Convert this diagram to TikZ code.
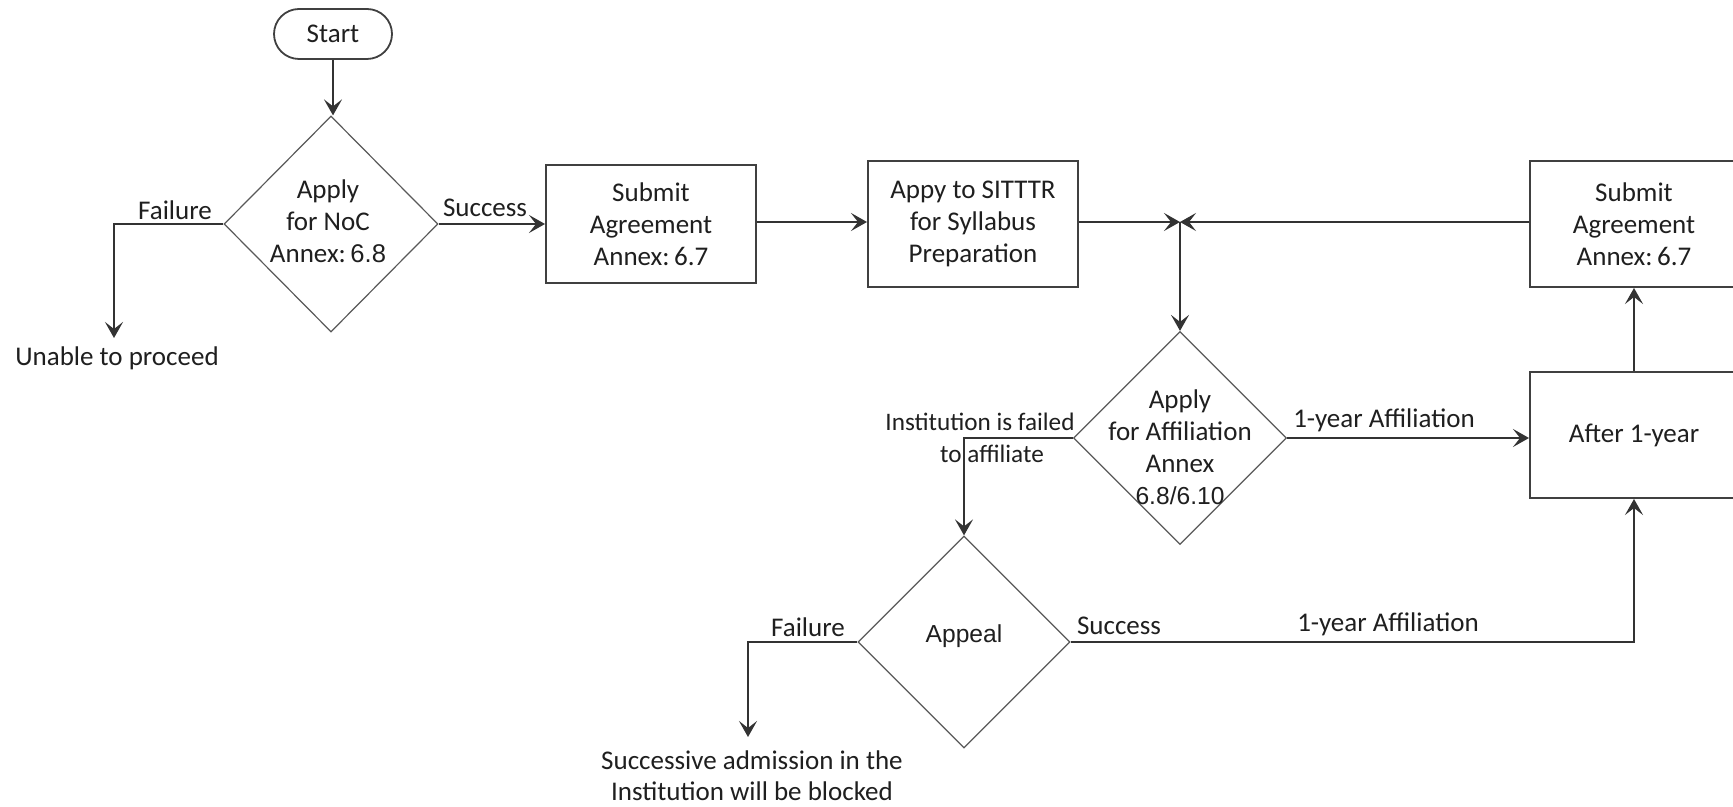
\documentclass[tikz,border=0pt]{standalone}
\usepackage{fontspec}
\setmainfont{Carlito}
\newfontfamily\altsans{Liberation Sans}
\usetikzlibrary{shapes.geometric,arrows.meta}
\begin{document}
\begin{tikzpicture}[x=0.5pt,y=-0.5pt,
  font=\fontsize{13.5}{16}\selectfont,
  every node/.append style={text=black!88},
  line/.style={draw=black!80, line width=1pt},
  arr/.style={line, -{Stealth[length=8pt,width=9pt,inset=3.5pt]}},
  procbox/.style={draw=black!75, line width=1pt, minimum width=105pt,
    minimum height=63pt, align=center, inner sep=0pt},
  decision/.style={diamond, draw=black!65, line width=0.6pt,
    minimum width=107pt, minimum height=107pt, inner sep=0pt},
  terminal/.style={draw=black!75, line width=0.9pt, rounded corners=12.5pt,
    minimum width=59pt, minimum height=25pt, inner sep=0pt},
  lbl/.style={inner sep=1pt, align=center},
  smallsans/.style={font=\fontsize{12.3}{15}\selectfont\altsans}
]
\useasboundingbox[fill=white] (0,0) rectangle (1733,807);

% shapes
\node[terminal] (start) at (333,34) {Start};
\node[decision, minimum width=107pt, minimum height=108pt] (noc) at (331,224) {};
\node[lbl] (noct) at (328,221) {Apply\\for NoC\\Annex:\,{\fontsize{12.8}{16}\selectfont\altsans 6.8}};
\node[procbox, minimum height=59pt] (sub1) at (651,224) {Submit\\Agreement\\Annex:\,6.7};
\node[procbox] (syl) at (973,224) {Appy to SITTTR\\for Syllabus\\Preparation};
\coordinate (junc) at (1180,222);
\node[procbox, minimum width=104pt] (sub2) at (1634,224) {Submit\\Agreement\\Annex:\,6.7};
\node[decision, minimum width=106.5pt, minimum height=106.5pt] (aff) at (1180,438) {};
\node[lbl] (afft) at (1180,447) {Apply\\for Affiliation\\Annex\\{\fontsize{12.3}{16}\selectfont\altsans 6.8/6.10}};
\node[procbox, minimum width=104pt] (after) at (1634,435) {After 1-year};
\node[decision, minimum width=106pt, minimum height=106pt] (appeal) at (964,642) {};
\node[lbl, smallsans] (appealt) at (964,636) {Appeal};

% end texts
\node[lbl] (unable) at (117,358) {Unable to proceed};
\node[lbl, font=\fontsize{13.5}{15.5}\selectfont] (blocked) at (752,776) {Successive admission in the\\Institution will be blocked};
\coordinate (unabletop) at (114,338);
\coordinate (blockedtop) at (748,737);

% connectors
\draw[arr] (start.south) -- (start.south |- noc.north);
\draw[arr] (noc.west) -| (unabletop);
\draw[arr] (noc.east) -- (noc.east -| sub1.west);
\draw[arr] (sub1.east |- junc) -- (syl.west |- junc);
\draw[arr] (syl.east |- junc) -- (junc);
\draw[arr] (sub2.west |- junc) -- (junc);
\draw[arr] (junc) -- (aff.north);
\draw[arr] (aff.east) -- (aff.east -| after.west);
\draw[arr] (after.north) -- (sub2.south);
\draw[arr] (aff.west) -| (appeal.north);
\draw[arr] (appeal.east) -| (after.south);
\draw[arr] (appeal.west) -| (blockedtop);

% connector labels
\node[lbl] (l1) at (175,210) {Failure};
\node[lbl] (l2) at (485,208) {Success};
\node[lbl] (l3) at (1384,420) {1-year Affiliation};
\node[lbl, font=\fontsize{12.6}{16}\selectfont] (l4) at (980,438) {Institution is failed\\\hspace*{12pt}to affiliate};
\node[lbl] (l5) at (808,627) {Failure};
\node[lbl] (l6) at (1119,626) {Success};
\node[lbl] (l7) at (1388,624) {1-year Affiliation};
\end{tikzpicture}
\end{document}
